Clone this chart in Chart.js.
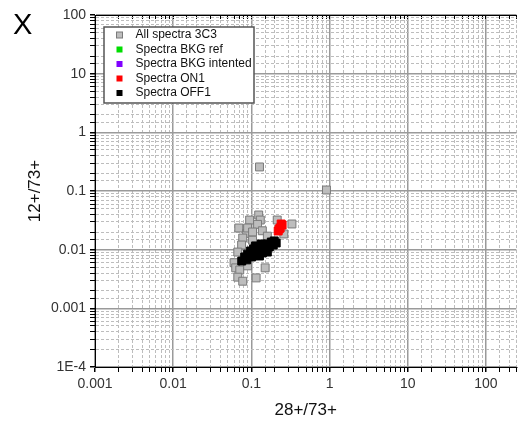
<!DOCTYPE html>
<html>
<head>
<meta charset="utf-8">
<script src="https://cdn.jsdelivr.net/npm/chart.js@4"></script>
<style>
  body { margin: 0; background: #fff; }
  #wrap { position: relative; width: 523px; height: 423px; }
</style>
</head>
<body>
<div id="wrap"><canvas id="chart" width="523" height="423"></canvas></div>
<script>
const seriesLabels = ["All spectra 3C3", "Spectra BKG ref", "Spectra BKG intented", "Spectra ON1", "Spectra OFF1"];

const allX = [0.127, 0.912, 0.124, 0.130, 0.095, 0.069, 0.087, 0.0775, 0.120, 0.0895, 0.1035, 0.214, 0.330, 0.260,
    0.075, 0.067, 0.060, 0.063, 0.071, 0.067, 0.0775, 0.115, 0.150, 0.0895, 0.082, 0.1035, 0.138, 0.160, 0.12, 0.15, 0.09];
const allY = [0.257, 0.104, 0.039, 0.032, 0.032, 0.0234, 0.019, 0.0158, 0.027, 0.0234, 0.020, 0.032, 0.0274, 0.0185,
    0.012, 0.0091, 0.0060, 0.0049, 0.0045, 0.0034, 0.0029, 0.0033, 0.0049, 0.0053, 0.0072, 0.0145, 0.021, 0.017, 0.010, 0.011, 0.008];

const bkgRefX = [];
const bkgRefY = [];
const bkgIntX = [];
const bkgIntY = [];

const on1X = [0.2201, 0.2266, 0.2333, 0.2472, 0.2401];
const on1Y = [0.0208, 0.0225, 0.0234, 0.0263, 0.0274];

const off1X = [0.0753, 0.0821, 0.0896, 0.0977, 0.1066, 0.087, 0.1006, 0.1097, 0.1197, 0.1268, 0.1384, 0.151, 0.1695,
    0.1904, 0.2077, 0.1268, 0.1424, 0.16, 0.1797, 0.196, 0.113, 0.1344, 0.16];
const off1Y = [0.0064, 0.0075, 0.0084, 0.0095, 0.0103, 0.0067, 0.0075, 0.0084, 0.0095, 0.0078, 0.0088, 0.0099, 0.0111,
    0.012, 0.013, 0.0103, 0.0116, 0.0125, 0.0135, 0.0141, 0.0116, 0.0125, 0.0091];

const xTickValues = [0.001, 0.01, 0.1, 1, 10, 100];
const xTickLabels = ["0.001", "0.01", "0.1", "1", "10", "100"];
const yTickValues = [0.0001, 0.001, 0.01, 0.1, 1, 10, 100];
const yTickLabels = ["1E-4", "0.001", "0.01", "0.1", "1", "10", "100"];

const fontFamily = "'Liberation Sans', Arial, sans-serif";

function toPoints(xs, ys) {
    return xs.map((x, i) => ({ x: x, y: ys[i] }));
}

function isDecade(v) {
    const e = Math.log10(v);
    return Math.abs(e - Math.round(e)) < 1e-6;
}

function labelFor(values, labels) {
    return (v) => {
        for (let i = 0; i < values.length; i++) {
            if (Math.abs(Math.log10(v) - Math.log10(values[i])) < 1e-6) return labels[i];
        }
        return "";
    };
}

const gridOpts = {
    color: (ctx) => ctx.tick && isDecade(ctx.tick.value) ? "#9a9a9a" : "#bdbdbd",
    lineWidth: (ctx) => ctx.tick && isDecade(ctx.tick.value) ? 1.5 : 1,
    tickColor: "#000",
    tickLength: 5
};
const borderOpts = {
    color: "#000",
    width: 1,
    dash: (ctx) => ctx.tick && isDecade(ctx.tick.value) ? [] : [3, 2]
};

// horizontal axes: no extra side padding so the plot runs to the right edge
function fitX(h) {
    return (s) => {
        s.height = h;
        s.paddingLeft = 0;
        s.paddingRight = 0;
    };
}

// legend box and the big "X" drawn on top
const overlayPlugin = {
    id: "overlay",
    afterDraw(chart) {
        const ctx = chart.ctx;
        ctx.save();
        ctx.fillStyle = "#000";
        ctx.font = "29px " + fontFamily;
        ctx.textBaseline = "alphabetic";
        ctx.fillText("X", 13, 34);

        ctx.fillStyle = "#fff";
        ctx.fillRect(104, 27, 150, 76);
        ctx.strokeStyle = "#555";
        ctx.lineWidth = 1.5;
        ctx.strokeRect(104, 27, 150, 76);

        ctx.font = "12px " + fontFamily;
        ctx.textBaseline = "middle";
        chart.data.datasets.forEach((ds, i) => {
            const cy = 35 + i * 14.5;
            ctx.fillStyle = ds.backgroundColor;
            ctx.fillRect(116.5, cy - 3, 6, 6);
            if (ds.borderColor !== ds.backgroundColor) {
                ctx.strokeStyle = ds.borderColor;
                ctx.lineWidth = 1;
                ctx.strokeRect(116.5, cy - 3, 6, 6);
            }
            ctx.fillStyle = "#111";
            ctx.fillText(ds.label, 135.5, cy);
        });
        ctx.restore();
    }
};

new Chart(document.getElementById("chart"), {
    type: "scatter",
    data: {
        datasets: [
            { label: seriesLabels[0], data: toPoints(allX, allY), backgroundColor: "#bdbdbd", borderColor: "#7a7a7a", borderWidth: 1, order: 10 },
            { label: seriesLabels[1], data: toPoints(bkgRefX, bkgRefY), backgroundColor: "#00dd00", borderColor: "#00dd00", borderWidth: 1, order: 3 },
            { label: seriesLabels[2], data: toPoints(bkgIntX, bkgIntY), backgroundColor: "#8000ff", borderColor: "#8000ff", borderWidth: 1, order: 2 },
            { label: seriesLabels[3], data: toPoints(on1X, on1Y), backgroundColor: "#ff0000", borderColor: "#ff0000", borderWidth: 1, order: 0 },
            { label: seriesLabels[4], data: toPoints(off1X, off1Y), backgroundColor: "#000000", borderColor: "#000000", borderWidth: 1, order: 1 }
        ]
    },
    options: {
        responsive: false,
        animation: false,
        events: [],
        layout: { padding: 0 },
        elements: { point: { pointStyle: "rect", radius: 5.6, hoverRadius: 5.6 } },
        plugins: { legend: { display: false }, tooltip: { enabled: false } },
        scales: {
            x: {
                type: "logarithmic",
                position: "bottom",
                min: 0.001,
                max: 245,
                afterFit: fitX(56),
                grid: gridOpts,
                border: borderOpts,
                ticks: {
                    autoSkip: false,
                    maxRotation: 0,
                    padding: 4,
                    color: "#333",
                    font: { family: fontFamily, size: 14 },
                    callback: labelFor(xTickValues, xTickLabels)
                },
                title: {
                    display: true,
                    text: "28+/73+",
                    color: "#111",
                    font: { family: fontFamily, size: 17 },
                    padding: { top: 0, bottom: 2 }
                }
            },
            x2: {
                type: "logarithmic",
                position: "top",
                min: 0.001,
                max: 245,
                afterFit: fitX(15),
                grid: { drawOnChartArea: false, tickColor: "#000", tickLength: -4 },
                border: { color: "#000", width: 1 },
                ticks: { display: false, autoSkip: false }
            },
            y: {
                type: "logarithmic",
                position: "left",
                min: 0.0001,
                max: 100,
                afterFit: (s) => { s.width = 95; },
                grid: gridOpts,
                border: borderOpts,
                ticks: {
                    autoSkip: false,
                    padding: 4,
                    color: "#333",
                    font: { family: fontFamily, size: 14 },
                    callback: labelFor(yTickValues, yTickLabels)
                },
                title: {
                    display: true,
                    text: "12+/73+",
                    color: "#111",
                    font: { family: fontFamily, size: 17 },
                    padding: { top: 25, bottom: 0 }
                }
            }
        }
    },
    plugins: [overlayPlugin]
});
</script>
</body>
</html>
